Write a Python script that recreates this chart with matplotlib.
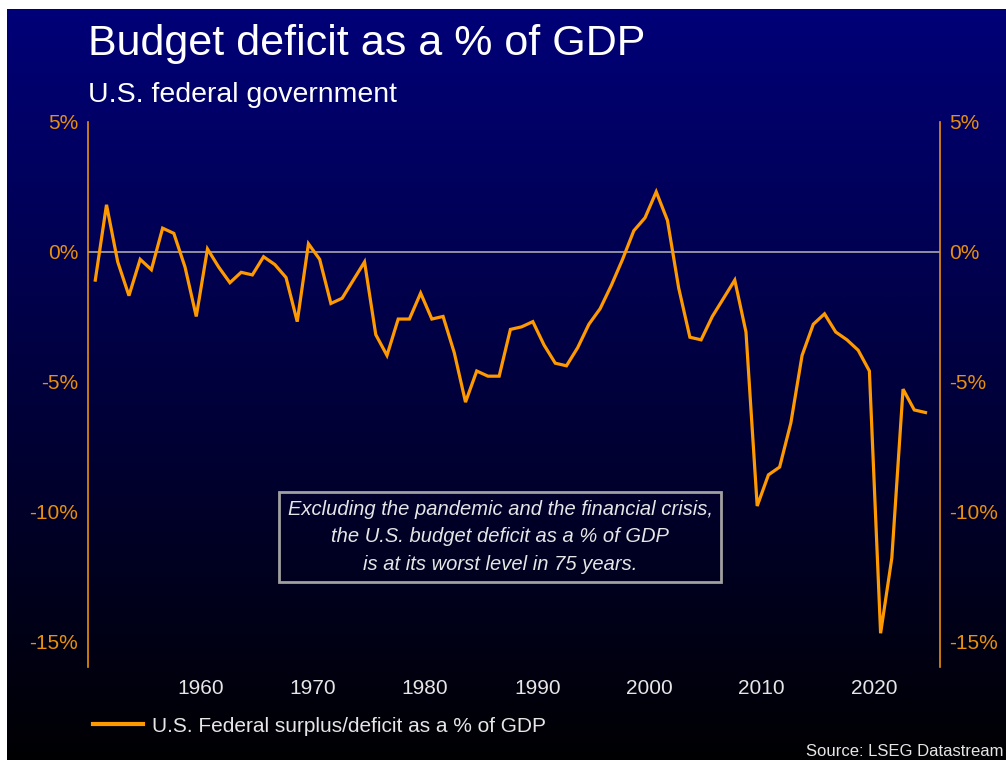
import numpy as np
import matplotlib
matplotlib.use("Agg")
import matplotlib.pyplot as plt
from matplotlib.colors import LinearSegmentedColormap
from matplotlib.lines import Line2D

# U.S. federal surplus/deficit as a % of GDP, fiscal years
years = list(range(1950, 2025))
deficit_pct = [
    -1.1, 1.8, -0.4, -1.7, -0.3, -0.7, 0.9, 0.7, -0.6, -2.5,
    0.1, -0.6, -1.2, -0.8, -0.9, -0.2, -0.5, -1.0, -2.7, 0.3,
    -0.3, -2.0, -1.8, -1.1, -0.4, -3.2, -4.0, -2.6, -2.6, -1.6,
    -2.6, -2.5, -3.9, -5.8, -4.6, -4.8, -4.8, -3.0, -2.9, -2.7,
    -3.6, -4.3, -4.4, -3.7, -2.8, -2.2, -1.3, -0.3, 0.8, 1.3,
    2.3, 1.2, -1.4, -3.3, -3.4, -2.5, -1.8, -1.1, -3.1, -9.8,
    -8.6, -8.3, -6.6, -4.0, -2.8, -2.4, -3.1, -3.4, -3.8, -4.6,
    -14.7, -11.8, -5.3, -6.1, -6.2,
]
x_ticks = [1960, 1970, 1980, 1990, 2000, 2010, 2020]
y_ticks = [5, 0, -5, -10, -15]

title = "Budget deficit as a % of GDP"
subtitle = "U.S. federal government"
series_label = "U.S. Federal surplus/deficit as a % of GDP"
note = ("Excluding the pandemic and the financial crisis,\n"
        "the U.S. budget deficit as a % of GDP\n"
        "is at its worst level in 75 years.")
source = "Source: LSEG Datastream"

line_color = "#FF9900"
axis_color = "#E8900C"
text_color = "#E6E6E6"

plt.rcParams["font.family"] = ["Liberation Sans", "DejaVu Sans"]

W, H = 1006, 763
fig = plt.figure(figsize=(W / 100, H / 100), dpi=100)
fig.patch.set_facecolor("white")

# gradient panel: navy at top fading to black
bg = fig.add_axes([7 / W, 3 / H, (W - 7) / W, (H - 9 - 3) / H], zorder=-10)
cmap = LinearSegmentedColormap.from_list("bg", [(0, 0, 0.01), (0, 0, 0.47)])
grad = np.linspace(0, 1, 256).reshape(-1, 1)
bg.imshow(grad, aspect="auto", cmap=cmap, origin="lower", extent=[0, 1, 0, 1])
bg.set_axis_off()

ax = fig.add_axes([88 / W, 1 - 667 / H, (939.5 - 88) / W, (667 - 121.7) / H])
ax.set_facecolor("none")

# fiscal years plotted a bit past the start of the calendar year
xs = np.array(years) + 0.6
ax.axhline(0, color="#9a9aa6", lw=1.3, zorder=1)
ax.plot(xs, deficit_pct, color=line_color, lw=2.3, zorder=3,
        solid_joinstyle="miter")

ax.set_xlim(1949.95, 2025.85)
ax.set_ylim(-16, 5)
ax.set_xticks(x_ticks)
ax.set_xticklabels([str(y) for y in x_ticks])
ax.set_yticks(y_ticks)
ax.set_yticklabels([f"{v}%" for v in y_ticks])
ax.tick_params(axis="x", length=0, pad=9, labelsize=15, colors=text_color)
ax.tick_params(axis="y", length=0, pad=7, labelsize=15, colors=axis_color,
               labelleft=True, labelright=True)

for side in ["top", "bottom"]:
    ax.spines[side].set_visible(False)
for side in ["left", "right"]:
    ax.spines[side].set_color(axis_color)
    ax.spines[side].set_linewidth(1.2)

# annotation box
ax.text((500 - 88) / (939.5 - 88), (667 - 537) / (667 - 121.7), note,
        transform=ax.transAxes, ha="center", va="center",
        fontsize=14.5, style="italic", color=text_color, linespacing=1.55,
        bbox=dict(boxstyle="square,pad=0.4", facecolor="none",
                  edgecolor="#a0a0a0", linewidth=2))

fig.text(88 / W, 1 - 55 / H, title, fontsize=31, color="white",
         ha="left", va="baseline")
fig.text(88 / W, 1 - 101.7 / H, subtitle, fontsize=20.5, color="white",
         ha="left", va="baseline")

handle = Line2D([], [], color=line_color, lw=3)
fig.legend([handle], [series_label], loc="center left",
           bbox_to_anchor=(93 / W, 1 - 726 / H), frameon=False,
           fontsize=15, labelcolor=text_color, handlelength=2.4,
           handletextpad=0.45, borderpad=0, borderaxespad=0)

fig.text(1004 / W, 1 - 751 / H, source, fontsize=12, color=text_color,
         ha="right", va="center")

fig.savefig("out.png", dpi=100)
